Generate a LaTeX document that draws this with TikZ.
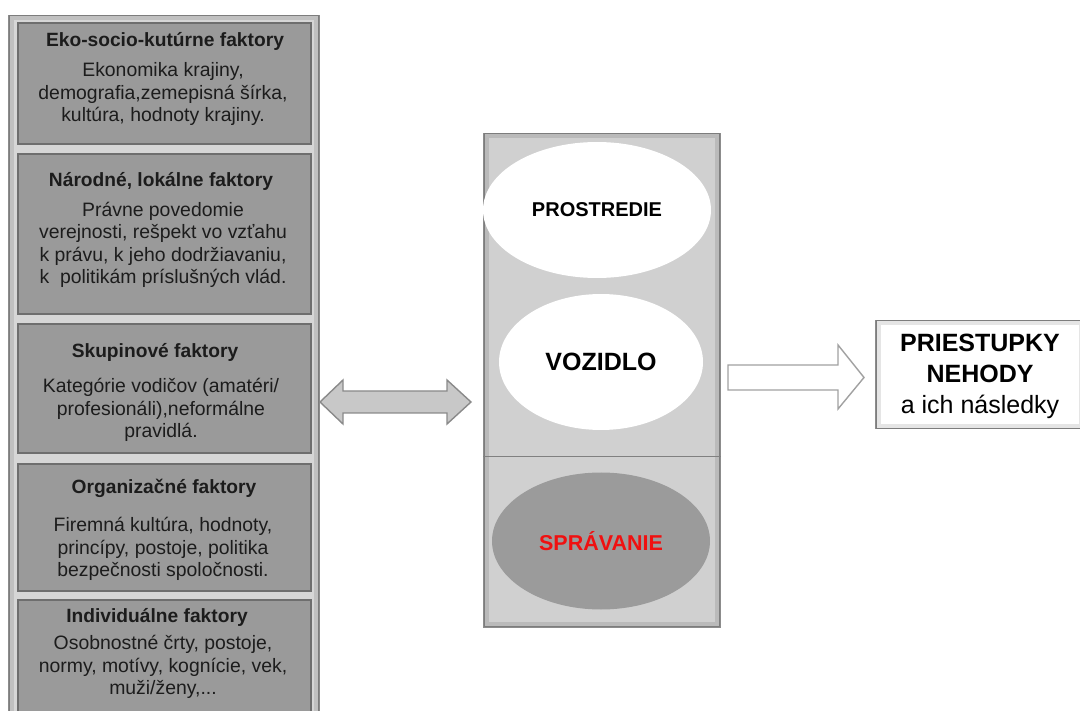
\documentclass[tikz,border=0pt]{standalone}
\usepackage{fontspec}
\setmainfont{Liberation Sans}
\usetikzlibrary{shapes.geometric}
\definecolor{panelfill}{HTML}{D6D6D6}
\definecolor{paneledge}{HTML}{8C8C8C}
\definecolor{boxfill}{HTML}{9A9A9A}
\definecolor{boxedge}{HTML}{6E6E6E}
\definecolor{midfill}{HTML}{D0D0D0}
\definecolor{txt}{HTML}{1C1C1C}
\definecolor{arrowfill}{HTML}{C8C8C8}
\definecolor{arrowedge}{HTML}{8A8A8A}
\definecolor{behfill}{HTML}{9B9B9B}
\definecolor{behred}{HTML}{F01010}
\tikzset{
  panelbox/.style={draw=paneledge, line width=1.5pt, fill=panelfill, inner sep=0pt, anchor=north west},
  factor/.style={draw=boxedge, line width=1.6pt, fill=boxfill, minimum width=293pt, inner sep=0pt, anchor=north west},
  ftitle/.style={text=txt, font=\bfseries\fontsize{19.2}{22}\selectfont, inner sep=0pt},
  fbody/.style={text=txt, align=center, font=\fontsize{19.4}{22.3}\selectfont, inner sep=0pt},
  oval/.style={ellipse, inner sep=0pt, text=black},
  blockarrow/.style={fill=arrowfill, draw=arrowedge, line width=1.4pt, line join=miter},
  shadeline/.style={draw=black, draw opacity=0.10, line width=1pt},
}
\newcommand{\innershade}[1]{%
  \foreach \i in {1,2,3,4,5}{%
    \draw[shadeline] ([shift={(\i pt,-\i pt)}]#1.north west) rectangle ([shift={(-\i pt,\i pt)}]#1.south east);
  }}
\begin{document}
\begin{tikzpicture}[x=1pt,y=-1pt]
\useasboundingbox (0,0) rectangle (1080,711);
\clip (0,0) rectangle (1080,711);

% left panel
\node[panelbox, minimum width=310pt, minimum height=710pt] (panel) at (8,15) {};
\innershade{panel}
\node[factor, minimum height=121pt] (f1) at (17,22) {};
\node[factor, minimum height=160pt] (f2) at (17,153) {};
\node[factor, minimum height=129pt] (f3) at (17,323) {};
\node[factor, minimum height=127pt] (f4) at (17,463) {};
\node[factor, minimum height=125pt] (f5) at (17,599) {};

\node[ftitle] (t1) at (165,41) {Eko-socio-kutúrne faktory};
\node[fbody] (d1) at (163,94) {Ekonomika krajiny,\\demografia,zemepisná šírka,\\kultúra, hodnoty krajiny.};
\node[ftitle] (t2) at (161,181) {Národné, lokálne faktory};
\node[fbody] (d2) at (163,245) {Právne povedomie\\verejnosti, rešpekt vo vzťahu\\k právu, k jeho dodržiavaniu,\\k\ \ politikám príslušných vlád.};
\node[ftitle] (t3) at (155,352) {Skupinové faktory};
\node[fbody] (d3) at (161,410) {Kategórie vodičov (amatéri/\\profesionáli),neformálne\\pravidlá.};
\node[ftitle] (t4) at (164,488) {Organizačné faktory};
\node[fbody] (d4) at (163,549) {Firemná kultúra, hodnoty,\\princípy, postoje, politika\\bezpečnosti spoločnosti.};
\node[ftitle] (t5) at (157,617) {Individuálne faktory};
\node[fbody] (d5) at (163,667) {Osobnostné črty, postoje,\\normy, motívy, kognície, vek,\\muži/ženy,...};

% middle column
\node[draw=paneledge, line width=1.5pt, fill=midfill, minimum width=236pt, minimum height=493pt, inner sep=0pt, anchor=north west] (mid) at (483,133) {};
\innershade{mid}
\coordinate (divL) at (483,457);
\coordinate (divR) at (721,457);
\draw[draw=gray, line width=1pt] (divL) -- (divR);

\node[oval, fill=white, minimum width=228pt, minimum height=136pt, font=\bfseries\fontsize{20}{23}\selectfont] (env) at (597,210) {PROSTREDIE};
\node[oval, fill=white, minimum width=204pt, minimum height=136pt, font=\bfseries\fontsize{25}{28}\selectfont] (veh) at (601,362) {VOZIDLO};
\node[oval, fill=behfill, minimum width=218pt, minimum height=137pt, text=behred, font=\bfseries\fontsize{21.5}{24}\selectfont] (beh) at (601,541) {SPRÁVANIE};

% double arrow between panel and middle column
\draw[blockarrow] (320,402) -- (343,380) -- (343,391) -- (447,391) -- (447,380) -- (471,402) -- (447,424) -- (447,413) -- (343,413) -- (343,424) -- cycle;

% single arrow to outcome
\draw[blockarrow, fill=white, draw=arrowedge!80] (728,365) -- (838,365) -- (838,345) -- (864,377.5) -- (838,409) -- (838,390) -- (728,390) -- cycle;

% outcome box
\node[draw=paneledge, line width=1.5pt, fill=white, minimum width=208pt, minimum height=108pt, inner sep=0pt, anchor=north west] (out) at (875,320) {};
\innershade{out}
\node[align=center, inner sep=0pt, font=\fontsize{25}{31}\selectfont] (outtext) at (980,376) {\textbf{PRIESTUPKY}\\\textbf{NEHODY}\\a ich následky};
\end{tikzpicture}
\end{document}
